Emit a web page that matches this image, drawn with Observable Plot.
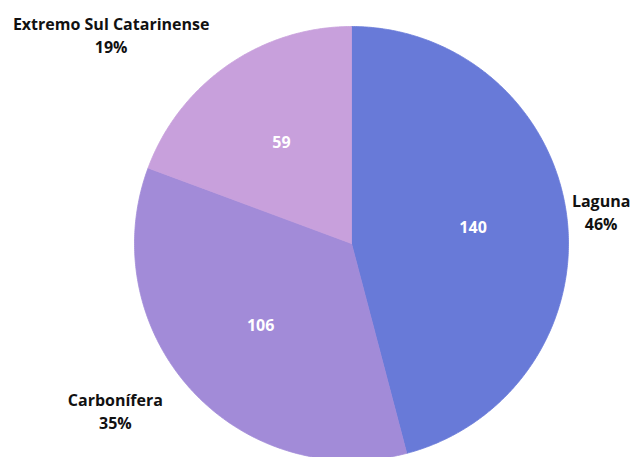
<!DOCTYPE html>
<html>
<head>
<meta charset="utf-8">
<script src="https://cdn.jsdelivr.net/npm/d3@7"></script>
<script src="https://cdn.jsdelivr.net/npm/@observablehq/plot@0.6"></script>
<style>
  html, body { margin: 0; padding: 0; background: #fff; overflow: hidden; }
</style>
</head>
<body>
<div id="chart"></div>
<script>
const names = ["Laguna", "Carbonífera", "Extremo Sul Catarinense"];
const values = [140, 106, 59];
const colors = ["#687ad8", "#a28bd8", "#c8a0dc"];

const W = 633, H = 457;
const R = 217, cx = 351, cy = 243;
const FONT = "Open Sans";
const FS = 16;

const data = names.map((name, i) => ({name, value: values[i]}));
const total = d3.sum(values);
const arcs = d3.pie().sort(null).value(d => d.value)(data);

// polygon vertices for each slice (unit circle, y up, angle 0 at 12 o'clock clockwise)
const poly = [];
for (const a of arcs) {
  const n = Math.max(2, Math.ceil((a.endAngle - a.startAngle) / (Math.PI / 360)));
  poly.push({name: a.data.name, x: 0, y: 0});
  for (let k = 0; k <= n; k++) {
    const t = a.startAngle + (a.endAngle - a.startAngle) * k / n;
    poly.push({name: a.data.name, x: Math.sin(t), y: Math.cos(t)});
  }
  poly.push({name: a.data.name, x: 0, y: 0});
}

const ctx = document.createElement("canvas").getContext("2d");
ctx.font = `bold ${FS}px "${FONT}"`;

const inner = arcs.map(a => {
  const m = (a.startAngle + a.endAngle) / 2;
  return {x: 0.565 * Math.sin(m), y: 0.565 * Math.cos(m), text: String(a.data.value)};
});

const outer = arcs.map(a => {
  const m = (a.startAngle + a.endAngle) / 2;
  const s = Math.sin(m), c = Math.cos(m);
  const pct = Math.round(a.data.value / total * 100) + "%";
  const lines = [a.data.name, pct];
  const w = d3.max(lines, l => ctx.measureText(l).width);
  const px = 1.025 * s, py = 1.025 * c;
  const gap = (-3 + 22 * Math.abs(c) + (c < 0 ? 12 : 0)) / R;
  const xc = px + Math.sign(s) * (gap + w / 2 / R);
  const k = 26 + 8 * Math.max(c, 0);
  const yc = py + c * k / R;
  return {x: xc, y: yc, text: lines.join("\n")};
});

const chart = Plot.plot({
  width: W,
  height: H,
  margin: 0,
  x: {domain: [-cx / R, (W - cx) / R], axis: null},
  y: {domain: [-(H - cy) / R, cy / R], axis: null},
  color: {domain: names, range: colors},
  style: {fontFamily: FONT, background: "#fff", overflow: "visible"},
  marks: [
    Plot.line(poly, {x: "x", y: "y", z: "name", fill: "name", stroke: "name", strokeWidth: 0.8, curve: "linear"}),
    Plot.text(inner, {x: "x", y: "y", text: "text", fill: "#fff", fontSize: 16, fontWeight: "bold"}),
    Plot.text(outer, {x: "x", y: "y", text: "text", fill: "#111", fontSize: FS, fontWeight: "bold", lineHeight: 1.4, textAnchor: "middle"})
  ]
});
document.getElementById("chart").appendChild(chart);
</script>
</body>
</html>
